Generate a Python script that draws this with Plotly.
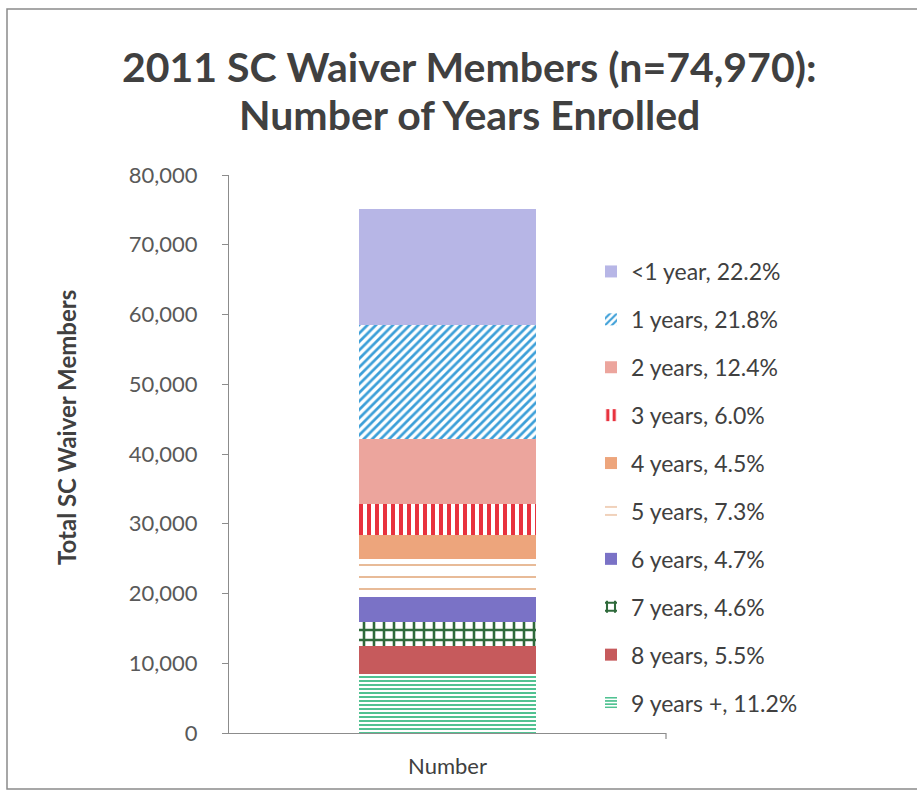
import plotly.graph_objects as go

# Enrollment duration groups, bottom of the stack first
groups = ["9 years +", "8 years", "7 years", "6 years", "5 years",
          "4 years", "3 years", "2 years", "1 years", "<1 year"]
shares = [11.2, 5.5, 4.6, 4.7, 7.3, 4.5, 6.0, 12.4, 21.8, 22.2]  # percent of members
total_members = 74970
category = ["Number"]

y_ticks = [0, 10000, 20000, 30000, 40000, 50000, 60000, 70000, 80000]

# Fill styles for each group: (background, foreground, pattern shape, size, solidity)
styles = {
    "9 years +": ("#ffffff", "#3dbb86", "-", 4, 0.45),
    "8 years": ("#c65a5c", None, "", 0, 0),
    "7 years": ("#ffffff", "#2f6a3b", "+", 10, 0.45),
    "6 years": ("#7a72c6", None, "", 0, 0),
    "5 years": ("#ffffff", "#e0a070", "-", 12, 0.12),
    "4 years": ("#eda57c", None, "", 0, 0),
    "3 years": ("#ffffff", "#e8323e", "|", 8, 0.5),
    "2 years": ("#eca59d", None, "", 0, 0),
    "1 years": ("#ffffff", "#3c9fd8", "/", 6, 0.45),
    "<1 year": ("#b7b6e6", None, "", 0, 0),
}

fig = go.Figure()
for i, (name, pct) in enumerate(zip(groups, shares)):
    bg, fg, shape, size, solid = styles[name]
    count = total_members * pct / 100.0
    marker = dict(color=bg, line=dict(width=0))
    if shape:
        marker["pattern"] = dict(shape=shape, fgcolor=fg, bgcolor=bg,
                                 size=size, solidity=solid, fillmode="replace")
    fig.add_trace(go.Bar(
        x=category, y=[count], name=f"{name}, {pct:.1f}%",
        marker=marker, legendgroup=name, legendrank=100 - i, width=0.405,
        hovertemplate=f"{name}: %{{y:,.0f}}<extra></extra>",
    ))

L, R, T, B = 229, 251, 175, 61
W, H = 917, 794
pw, ph = W - L - R, H - T - B

def px_x(x):
    return (x - L) / pw

def px_y(y):
    return (H - B - y) / ph

fig.update_layout(
    width=W, height=H,
    margin=dict(l=L, r=R, t=T, b=B, pad=0),
    barmode="stack",
    paper_bgcolor="white",
    plot_bgcolor="white",
    font=dict(family="Lato", color="#404040"),
    showlegend=True,
    legend=dict(
        traceorder="grouped",
        x=px_x(591), y=px_y(250), xanchor="left", yanchor="top",
        font=dict(size=23, color="#404040", family="Lato"),
        tracegroupgap=15,
        itemwidth=30,
        bgcolor="rgba(0,0,0,0)",
    ),
    xaxis=dict(
        showline=True, linecolor="#8c8c8c", linewidth=1.2,
        ticks="", tickfont=dict(size=22, color="#404040"),
        ticklabelstandoff=13,
        showgrid=False, fixedrange=True,
    ),
    yaxis=dict(
        range=[0, 80000], tickvals=y_ticks, tickformat=",d",
        showline=True, linecolor="#8c8c8c", linewidth=1.2,
        ticks="outside", ticklen=6, tickcolor="#8c8c8c",
        tickfont=dict(size=22, color="#595959"),
        ticklabelstandoff=20,
        showgrid=False, zeroline=False, fixedrange=True,
    ),
    annotations=[
        dict(text="<b>2011 SC Waiver Members (n=74,970):</b>",
             xref="paper", yref="paper", x=px_x(469), y=px_y(66),
             xanchor="center", yanchor="middle", showarrow=False,
             font=dict(size=41, color="#404040", family="Lato")),
        dict(text="<b>Number of Years Enrolled</b>",
             xref="paper", yref="paper", x=px_x(469), y=px_y(114),
             xanchor="center", yanchor="middle", showarrow=False,
             font=dict(size=41, color="#404040", family="Lato")),
        dict(text="<b>Total SC Waiver Members</b>",
             xref="paper", yref="paper", x=px_x(66), y=px_y(428),
             xanchor="center", yanchor="middle", textangle=-90, showarrow=False,
             font=dict(size=24, color="#404040", family="Lato")),
    ],
    shapes=[
        dict(type="rect", xref="paper", yref="paper",
             x0=px_x(7), x1=px_x(925), y0=px_y(789), y1=px_y(9),
             line=dict(color="#8a8a8a", width=1.5), fillcolor="rgba(0,0,0,0)",
             layer="below"),
        dict(type="line", xref="paper", yref="paper",
             x0=1, x1=1, y0=0, y1=px_y(739),
             line=dict(color="#8c8c8c", width=1.2)),
    ],
)

fig.write_html("out.html")
